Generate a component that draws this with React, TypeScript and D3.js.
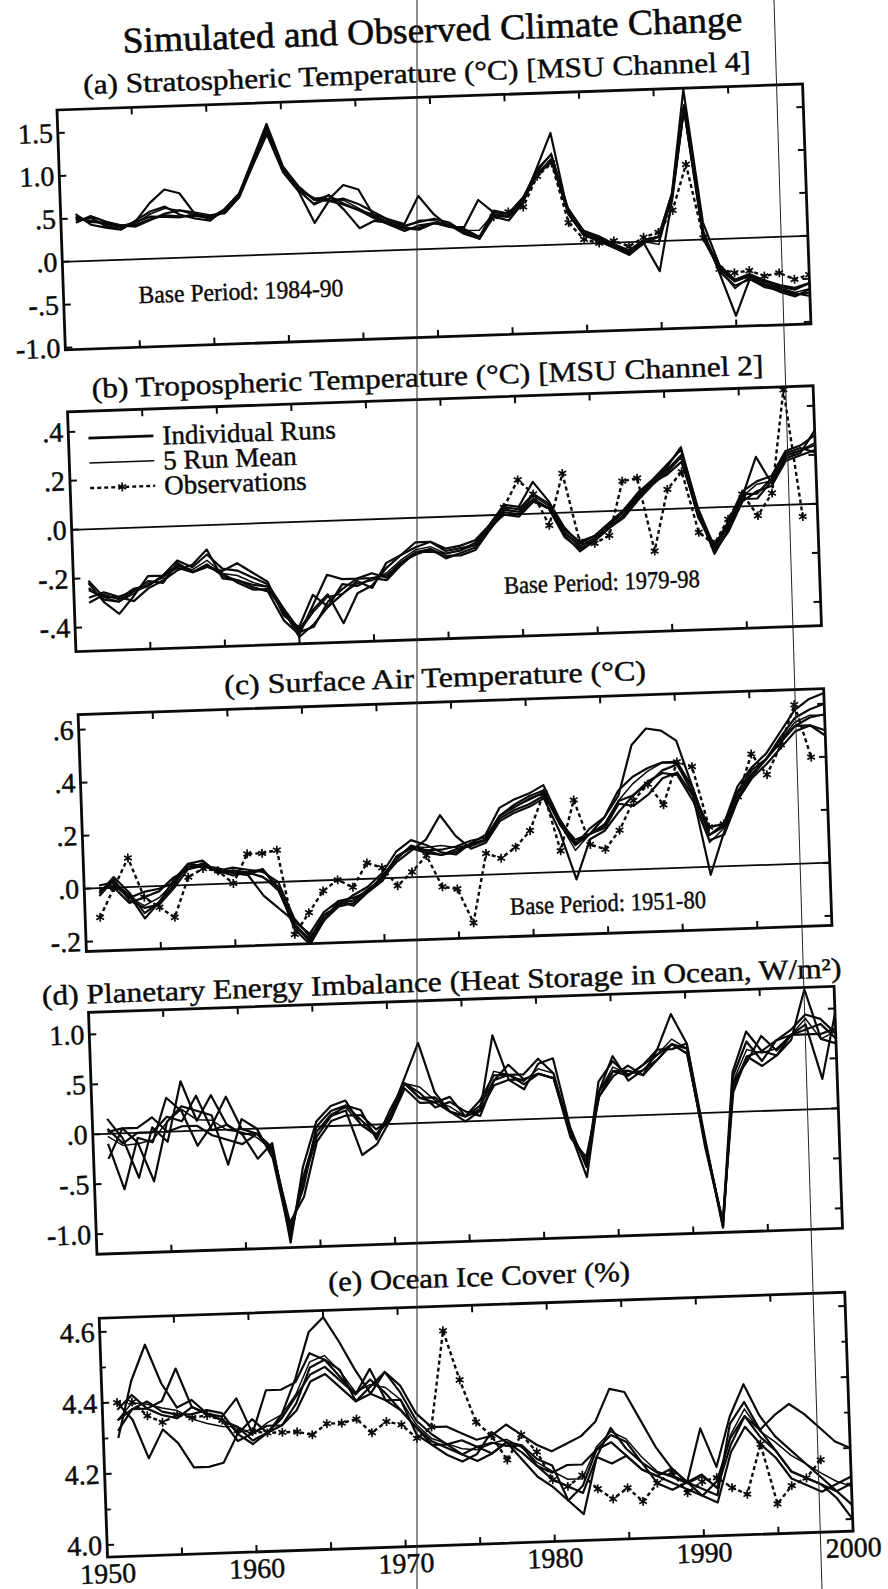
import * as d3 from "d3";

// ---------- data (annual, 1951-2000) ----------
const years = d3.range(1951, 2001);
const xTickYears = [1955, 1960, 1965, 1970, 1975, 1980, 1985, 1990, 1995];
const xLabelYears = [1950, 1960, 1970, 1980, 1990, 2000];

// (a) stratospheric temperature, 5 model runs
const stratRuns = [
  [.55,.42,.38,.35,.45,.55,.60,.50,.45,.42, .55,.72,1.12,1.52,1.02,.78,.62,.60,.55,.48, .38,.30,.22,.28,.30,.25,.24,.55,.40,.38, .55,.88,1.05,.40,.15,.08,-.02,-.10,.02,.05, .55,1.75,.20,-.30,-.48,-.42,-.50,-.56,-.60,-.55],
  [.45,.52,.45,.40,.38,.45,.52,.55,.52,.48, .50,.68,1.05,1.40,.95,.72,.35,.60,.62,.55, .45,.35,.28,.32,.35,.30,.18,.10,.35,.30, .50,.90,1.30,.35,.10,.02,-.06,-.15,-.02,.05, .50,1.55,.05,-.38,-.55,-.48,-.58,-.62,-.68,-.66],
  [.48,.50,.40,.36,.44,.65,.80,.75,.50,.44, .52,.70,1.10,1.48,1.00,.78,.62,.66,.56,.48, .42,.36,.30,.62,.40,.25,.22,.12,.42,.38, .56,.82,1.00,.42,.14,.06,-.05,-.12,.00,.00, .52,1.52,.00,-.35,-.50,-.44,-.52,-.58,-.62,-.55],
  [.52,.45,.44,.40,.40,.46,.50,.48,.48,.45, .54,.72,1.06,1.42,.96,.74,.64,.62,.78,.72, .40,.32,.25,.25,.30,.28,.20,.12,.36,.34, .52,.84,.98,.36,.10,.05,-.02,-.10,.02,.05, .55,1.55,.10,-.40,-.90,-.48,-.55,-.60,-.66,-.70],
  [.50,.46,.43,.39,.43,.49,.48,.47,.50,.46, .54,.68,1.07,1.43,.97,.73,.57,.67,.49,.27, .35,.32,.25,.23,.30,.27,.16,.10,.37,.35, .52,.81,.97,.37,.11,.04,-.06,-.13,-.02,-.35, .48,1.53,.05,-.32,-.48,-.45,-.56,-.64,-.70,-.62],
];
const stratObs = [.35,.40,.45,.80,.95,.25,.05,.00,.02,-.05, .05,.10,.35,.88,.02,-.35,-.40,-.38,-.45,-.42, -.50,-.45]; // from 1979

// (b) tropospheric temperature
const tropoRuns = [
  [-.22,-.30,-.35,-.28,-.20,-.20,-.14,-.17,-.12,-.18, -.19,-.22,-.25,-.35,-.44,-.36,-.30,-.42,-.30,-.27, -.20,-.15,-.12,-.10,-.13,-.12,-.10,-.04,.03,.02, .08,.04,-.07,-.12,-.10,-.05,.00,.07,.12,.18, .24,.00,-.16,-.06,.06,.10,.12,.22,.24,.28],
  [-.28,-.26,-.28,-.30,-.25,-.22,-.18,-.16,-.10,-.22, -.23,-.26,-.28,-.40,-.46,-.34,-.22,-.24,-.24,-.22, -.24,-.18,-.15,-.13,-.17,-.15,-.13,-.06,.01,.00, .05,.02,-.10,-.15,-.12,-.07,-.03,.04,.10,.15, .21,-.03,-.18,-.10,.02,.06,.08,.18,.20,.22],
  [-.30,-.27,-.29,-.25,-.24,-.20,-.17,-.19,-.17,-.19, -.16,-.20,-.24,-.38,-.43,-.30,-.35,-.30,-.25,-.28, -.18,-.15,-.10,-.10,-.14,-.13,-.12,-.04,.04,.03, .13,.05,-.06,-.13,-.10,-.05,.00,.06,.11,.17, .25,-.01,-.19,-.09,.04,.20,.09,.19,.21,.30],
  [-.24,-.29,-.30,-.26,-.22,-.23,-.15,-.19,-.17,-.20, -.24,-.27,-.27,-.36,-.47,-.42,-.35,-.26,-.27,-.24, -.25,-.19,-.14,-.13,-.16,-.16,-.14,-.06,.02,.01, .06,.02,-.09,-.16,-.12,-.07,-.02,.05,.11,.16, .21,-.04,-.15,-.08,.05,.05,.11,.20,.22,.24],
  [-.21,-.28,-.28,-.26,-.24,-.20,-.16,-.19,-.16,-.21, -.23,-.25,-.26,-.36,-.45,-.43,-.33,-.28,-.24,-.24, -.23,-.18,-.14,-.14,-.15,-.14,-.11,-.05,.00,-.01, .05,.02,-.08,-.14,-.11,-.06,.00,.05,.11,.14, .19,-.02,-.17,-.07,.03,.03,.10,.21,.23,.21],
];
const tropoObs = [.03,.14,.08,-.05,.16,-.12,-.13,-.10,.12,.13, -.17,.08,.15,-.10,-.15,-.05,.05,-.04,.05,.47, -.05]; // from 1979

// (c) surface air temperature
const surfRuns = [
  [-.02,.04,-.02,-.10,-.06,.00,.08,.09,.04,.05, .04,.02,-.02,-.18,-.24,-.15,-.10,-.06,-.03,.02, .10,.14,.12,.09,.08,.12,.15,.25,.28,.30, .33,.20,.10,.16,.20,.30,.35,.38,.40,.40, .30,.12,.16,.30,.37,.42,.50,.58,.62,.64],
  [.00,.00,-.06,-.04,-.02,.03,.06,.07,.06,.04, .03,-.05,-.10,-.15,-.20,-.12,-.08,-.10,-.05,.00, .06,.10,.14,.23,.15,.10,.12,.20,.23,.25, .28,.15,-.03,.12,.15,.22,.28,.33,.36,.35, .25,.10,.12,.25,.33,.38,.44,.50,.52,.48],
  [-.03,.03,-.05,-.08,-.07,-.01,.06,.08,.05,.06, .05,.04,.00,-.14,-.21,-.15,-.08,-.07,-.05,.01, .07,.12,.10,.10,.11,.13,.14,.22,.26,.29, .31,.19,.12,.14,.20,.28,.47,.53,.52,.48, .30,.12,.15,.28,.36,.40,.48,.55,.58,.60],
  [.01,.02,-.03,-.12,-.06,.02,.08,.07,.05,.03, .04,.05,-.03,-.17,-.22,-.13,-.10,-.09,-.05,-.01, .08,.11,.10,.08,.10,.11,.13,.21,.24,.26, .29,.20,.11,.14,.16,.25,.24,.28,.34,.36, .27,-.03,.13,.26,.34,.40,.46,.52,.55,.56],
  [-.01,.01,-.04,-.02,-.01,.01,.07,.07,.05,.04, .03,.05,-.02,-.16,-.23,-.15,-.09,-.08,-.04,.00, .08,.11,.09,.08,.09,.12,.13,.22,.25,.28, .30,.18,.10,.14,.17,.26,.28,.32,.37,.39, .28,.15,.16,.28,.34,.40,.47,.52,.52,.50],
];
const surfObs = [-.11,.00,.11,-.04,-.08,-.12,.03,.06,.05,.00, .11,.11,.12,-.20,-.12,-.04,.00,-.03,.06,.04, -.03,.02,.08,-.04,-.05,-.18,.08,.06,.10,.16, .30,.08,.27,.10,.08,.15,.26,.32,.24,.40, .38,.15,.16,.26,.42,.34,.45,.60,.40]; // from 1951

// (d) planetary energy imbalance
const heatRuns = [
  [.15,-.05,-.45,.05,-.10,.50,.10,.35,.05,-.05, -.30,-.15,-1.15,-.40,.05,.20,.25,.00,-.10,.10, .45,.80,.30,.10,.00,.10,.85,.40,.30,.55, .60,-.10,-.50,.35,.55,.40,.50,.65,1.00,.70, -.25,-1.15,.35,.70,.50,.70,.80,.95,.90,.75],
  [-.10,-.56,-.05,-.10,.34,.20,-.15,.05,.33,.00, -.05,-.25,-.95,-.70,-.15,.05,.10,.10,-.05,.05, .35,.20,.20,.25,.05,.15,.40,.55,.40,.45, .40,-.20,-.40,.20,.40,.50,.40,.55,.70,.60, -.30,-1.10,.25,.55,.45,.55,.70,1.20,.70,.65],
  [-.25,.05,-.10,-.49,.10,.25,.20,.15,-.35,.10, .00,-.30,-1.10,-.50,-.05,.10,.15,-.30,-.20,.05, .40,.30,.15,.20,.10,.05,.40,.45,.45,.60, .45,-.15,-.60,.25,.60,.35,.45,.55,.70,.65, -.35,-1.10,.40,.80,.60,.55,.75,.80,.85,.70],
  [.05,-.10,.00,.00,.15,.10,.35,.00,.05,-.05, -.05,-.20,-1.00,-.60,.00,.15,.20,.15,-.15,.15, .40,.25,.25,.10,.05,.20,.45,.45,.35,.45, .40,-.15,-.45,.20,.45,.45,.40,.65,.65,.70, -.30,-1.15,.30,.50,.75,.60,.75,.75,.75,.80],
  [.02,.05,.05,.15,.00,.05,.05,-.05,-.10,-.15, -.05,-.20,-1.05,-.55,-.10,.10,.20,.05,-.10,.05, .40,.25,.20,.10,.05,.10,.35,.40,.40,.45, .40,-.15,-.45,.25,.45,.40,.50,.60,.70,.60, -.30,-1.10,.20,.55,.60,.70,.75,.85,.30,.95],
];

// (e) ocean ice cover
const iceRuns = [
  [4.30,4.46,4.56,4.45,4.38,4.40,4.36,4.34,4.32,4.28, 4.30,4.35,4.45,4.58,4.62,4.55,4.47,4.40,4.46,4.40, 4.32,4.28,4.25,4.26,4.24,4.22,4.25,4.24,4.18,4.14, 4.12,4.10,4.20,4.28,4.22,4.18,4.15,4.14,4.12,4.27, 4.16,4.30,4.39,4.30,4.24,4.20,4.16,4.12,4.08,4.04],
  [4.40,4.35,4.24,4.32,4.28,4.21,4.21,4.22,4.30,4.27, 4.30,4.32,4.38,4.48,4.50,4.45,4.40,4.44,4.40,4.35, 4.30,4.25,4.22,4.20,4.22,4.28,4.25,4.20,4.15,4.12, 4.08,4.12,4.22,4.26,4.24,4.18,4.12,4.10,4.12,4.10, 4.08,4.28,4.34,4.26,4.30,4.33,4.30,4.26,4.22,4.20],
  [4.35,4.38,4.38,4.40,4.49,4.38,4.36,4.35,4.40,4.30, 4.42,4.42,4.44,4.52,4.50,4.47,4.38,4.42,4.46,4.42, 4.34,4.30,4.30,4.28,4.26,4.27,4.30,4.27,4.24,4.22, 4.24,4.26,4.30,4.39,4.38,4.30,4.22,4.16,4.12,4.14, 4.10,4.22,4.30,4.24,4.20,4.14,4.12,4.10,4.06,4.00],
  [4.32,4.38,4.40,4.37,4.36,4.36,4.37,4.36,4.30,4.34, 4.30,4.34,4.40,4.46,4.48,4.44,4.40,4.47,4.38,4.38, 4.28,4.25,4.25,4.22,4.24,4.25,4.24,4.24,4.20,4.18, 4.08,4.04,4.20,4.18,4.20,4.16,4.14,4.16,4.12,4.08, 4.06,4.20,4.27,4.22,4.18,4.12,4.10,4.08,4.10,4.12],
  [4.38,4.42,4.38,4.36,4.35,4.38,4.36,4.34,4.28,4.30, 4.32,4.32,4.36,4.44,4.46,4.42,4.38,4.40,4.38,4.35, 4.30,4.26,4.24,4.22,4.20,4.22,4.25,4.22,4.18,4.16, 4.18,4.18,4.22,4.24,4.20,4.16,4.14,4.12,4.10,4.08, 4.12,4.24,4.30,4.26,4.20,4.14,4.12,4.10,4.08,4.10],
];
const iceObs = [4.40,4.40,4.36,4.34,4.36,4.35,4.355,4.34,4.31,4.305, 4.30,4.30,4.30,4.29,4.32,4.32,4.33,4.29,4.32,4.31, 4.27,4.30,4.57,4.43,4.31,4.27,4.20,4.27,4.22,4.14, 4.12,4.15,4.11,4.08,4.11,4.07,4.12,4.15,4.09,4.12, 4.13,4.10,4.08,4.22,4.05,4.10,4.12,4.17]; // from 1951

// tick values / labels
const ticksA = [1.5, 1.0, 0.5, 0, -0.5, -1.0];
const tickTextA = ["1.5", "1.0", ".5", ".0", "-.5", "-1.0"];
const ticksB = [0.4, 0.2, 0, -0.2, -0.4];
const tickTextB = [".4", ".2", ".0", "-.2", "-.4"];
const ticksC = [0.6, 0.4, 0.2, 0, -0.2];
const tickTextC = [".6", ".4", ".2", ".0", "-.2"];
const ticksD = [1.0, 0.5, 0, -0.5, -1.0];
const tickTextD = ["1.0", ".5", ".0", "-.5", "-1.0"];
const ticksE = [4.6, 4.4, 4.2, 4.0];
const tickTextE = ["4.6", "4.4", "4.2", "4.0"];
const minorE = [4.5, 4.3, 4.1];

const legendItems = ["Individual Runs", "5 Run Mean", "Observations"];

// ---------- layout ----------
const FONT = "'Liberation Serif', 'Times New Roman', serif";
const W = 746;
const INK = "#0a0a0a";
const TXT = { fill: INK, stroke: INK, strokeWidth: 0.45, fontFamily: FONT };

type Panel = {
  id: string;
  title: string;
  titleX: number;
  titleY: number;
  titleW: number;
  top: number;
  h: number;
  domain: [number, number];
  ticks: number[];
  tickText: string[];
  minor?: number[];
  runs: number[][];
  obs?: number[];
  obsStart?: number;
  zero: boolean;
  base?: { text: string; x: number; y: number; w: number };
  legend?: boolean;
  xLabels?: boolean;
};

const panels: Panel[] = [
  {
    id: "a", title: "(a)  Stratospheric Temperature (°C) [MSU Channel 4]",
    titleX: 361, titleY: -15, titleW: 668, top: 0, h: 240, domain: [-1.024, 1.767],
    ticks: ticksA, tickText: tickTextA, runs: stratRuns, obs: stratObs, obsStart: 1979, zero: true,
    base: { text: "Base Period: 1984-90", x: 75, y: 196, w: 205 },
  },
  {
    id: "b", title: "(b)  Tropospheric Temperature (°C) [MSU Channel 2]",
    titleX: 361, titleY: -13, titleW: 672, top: 302, h: 240, domain: [-0.498, 0.482],
    ticks: ticksB, tickText: tickTextB, runs: tropoRuns, obs: tropoObs, obsStart: 1979, zero: true,
    base: { text: "Base Period: 1979-98", x: 430, y: 197, w: 196 }, legend: true,
  },
  {
    id: "c", title: "(c)  Surface Air Temperature (°C)",
    titleX: 358, titleY: -15, titleW: 422, top: 605, h: 237, domain: [-0.237, 0.657],
    ticks: ticksC, tickText: tickTextC, runs: surfRuns, obs: surfObs, obsStart: 1951, zero: true,
    base: { text: "Base Period: 1951-80", x: 425, y: 215, w: 196 },
  },
  {
    id: "d", title: "(d)  Planetary Energy Imbalance (Heat Storage in Ocean, W/m²)",
    titleX: 354, titleY: -9, titleW: 800, top: 903, h: 242, domain: [-1.2, 1.22],
    ticks: ticksD, tickText: tickTextD, runs: heatRuns, zero: true,
  },
  {
    id: "e", title: "(e)  Ocean Ice Cover (%)",
    titleX: 381, titleY: -19, titleW: 302, top: 1209, h: 239, domain: [3.966, 4.639],
    ticks: ticksE, tickText: tickTextE, minor: minorE, runs: iceRuns, obs: iceObs, obsStart: 1951,
    zero: false, xLabels: true,
  },
];

const star = d3.symbol(d3.symbolAsterisk, 55)() as string;

function PanelView({ p }: { p: Panel }) {
  const x = d3.scaleLinear().domain([1950, 2000]).range([0, W]);
  const y = d3.scaleLinear().domain(p.domain).range([p.h, 0]);
  const runLine = d3.line<number>().x((_, i) => x(years[i])).y((d) => y(d));
  const mean = years.map((_, i) => d3.mean(p.runs, (r) => r[i]) as number);
  const obsStart = p.obsStart ?? 1951;
  const obsLine = d3.line<number>().x((_, i) => x(obsStart + i)).y((d) => y(d));
  const clip = `clip-${p.id}`;

  return (
    <g transform={`translate(0,${p.top})`}>
      <defs>
        <clipPath id={clip}>
          <rect x={0} y={-1} width={W} height={p.h + 2} />
        </clipPath>
      </defs>
      <text x={p.titleX} y={p.titleY} textAnchor="middle" fontSize={28} {...TXT}
        textLength={p.titleW} lengthAdjust="spacingAndGlyphs">
        {p.title}
      </text>

      <g clipPath={`url(#${clip})`}>
        {p.zero && (
          <line x1={0} x2={W} y1={y(0)} y2={y(0)} stroke={INK} strokeWidth={1.8} />
        )}
        {p.runs.map((r, k) => (
          <path key={k} d={runLine(r) as string} fill="none" stroke={INK} strokeWidth={2.2}
            strokeLinejoin="round" />
        ))}
        <path d={runLine(mean) as string} fill="none" stroke={INK} strokeWidth={1.5} />
        {p.obs && (
          <path d={obsLine(p.obs) as string} fill="none" stroke={INK} strokeWidth={2.4}
            strokeDasharray="4 3" />
        )}
        {p.obs &&
          p.obs.map((v, i) => (
            <path key={i} d={star} transform={`translate(${x(obsStart + i)},${y(v)})`}
              fill="none" stroke={INK} strokeWidth={1.7} />
          ))}
      </g>

      <rect x={0} y={0} width={W} height={p.h} fill="none" stroke={INK} strokeWidth={2.8} />

      {xTickYears.map((yr) => (
        <g key={yr}>
          <line x1={x(yr)} x2={x(yr)} y1={0} y2={7} stroke={INK} strokeWidth={2} />
          <line x1={x(yr)} x2={x(yr)} y1={p.h} y2={p.h - 7} stroke={INK} strokeWidth={2} />
        </g>
      ))}
      {p.ticks.map((t, i) => (
        <g key={t}>
          <line x1={0} x2={7} y1={y(t)} y2={y(t)} stroke={INK} strokeWidth={2} />
          <line x1={W} x2={W - 7} y1={y(t)} y2={y(t)} stroke={INK} strokeWidth={2} />
          <text x={-5} y={y(t) + 9.5} textAnchor="end" fontSize={28} {...TXT}>
            {p.tickText[i]}
          </text>
        </g>
      ))}
      {(p.minor ?? []).map((t) => (
        <g key={t}>
          <line x1={0} x2={5} y1={y(t)} y2={y(t)} stroke={INK} strokeWidth={1.8} />
          <line x1={W} x2={W - 5} y1={y(t)} y2={y(t)} stroke={INK} strokeWidth={1.8} />
        </g>
      ))}

      {p.base && (
        <text x={p.base.x} y={p.base.y} fontSize={25} {...TXT}
          textLength={p.base.w} lengthAdjust="spacingAndGlyphs">
          {p.base.text}
        </text>
      )}

      {p.legend && (
        <g>
          {legendItems.map((label, i) => {
            const ly = 27 + i * 25;
            return (
              <g key={label}>
                <line x1={20} x2={85} y1={ly} y2={ly} stroke={INK}
                  strokeWidth={i === 0 ? 2.6 : i === 1 ? 1.5 : 2.4}
                  strokeDasharray={i === 2 ? "4 3" : undefined} />
                {i === 2 && (
                  <path d={star} transform={`translate(52,${ly})`} fill="none" stroke={INK}
                    strokeWidth={1.7} />
                )}
                <text x={94} y={ly + 9} fontSize={27} {...TXT}>{label}</text>
              </g>
            );
          })}
        </g>
      )}

      {p.xLabels &&
        xLabelYears.map((yr) => (
          <text key={yr} x={x(yr)} y={p.h + 26} textAnchor="middle" fontSize={28} {...TXT}>
            {yr}
          </text>
        ))}
    </g>
  );
}

export default function App() {
  return (
    <svg width={888} height={1589} style={{ position: "absolute", left: 0, top: 0, background: "#fff" }}>
      <rect width={888} height={1589} fill="#fff" />
      <g transform="translate(57,110) rotate(-2)">
        <text x={378} y={-55} textAnchor="middle" fontSize={36} {...TXT} strokeWidth={0.6}
          textLength={620} lengthAdjust="spacingAndGlyphs">
          Simulated and Observed Climate Change
        </text>
        {panels.map((p) => (
          <PanelView key={p.id} p={p} />
        ))}
      </g>
      {/* photocopy fold lines */}
      <line x1={417} x2={417} y1={0} y2={1589} stroke="#222" strokeWidth={1} />
      <line x1={774} x2={822} y1={0} y2={1589} stroke="#222" strokeWidth={1} />
    </svg>
  );
}
